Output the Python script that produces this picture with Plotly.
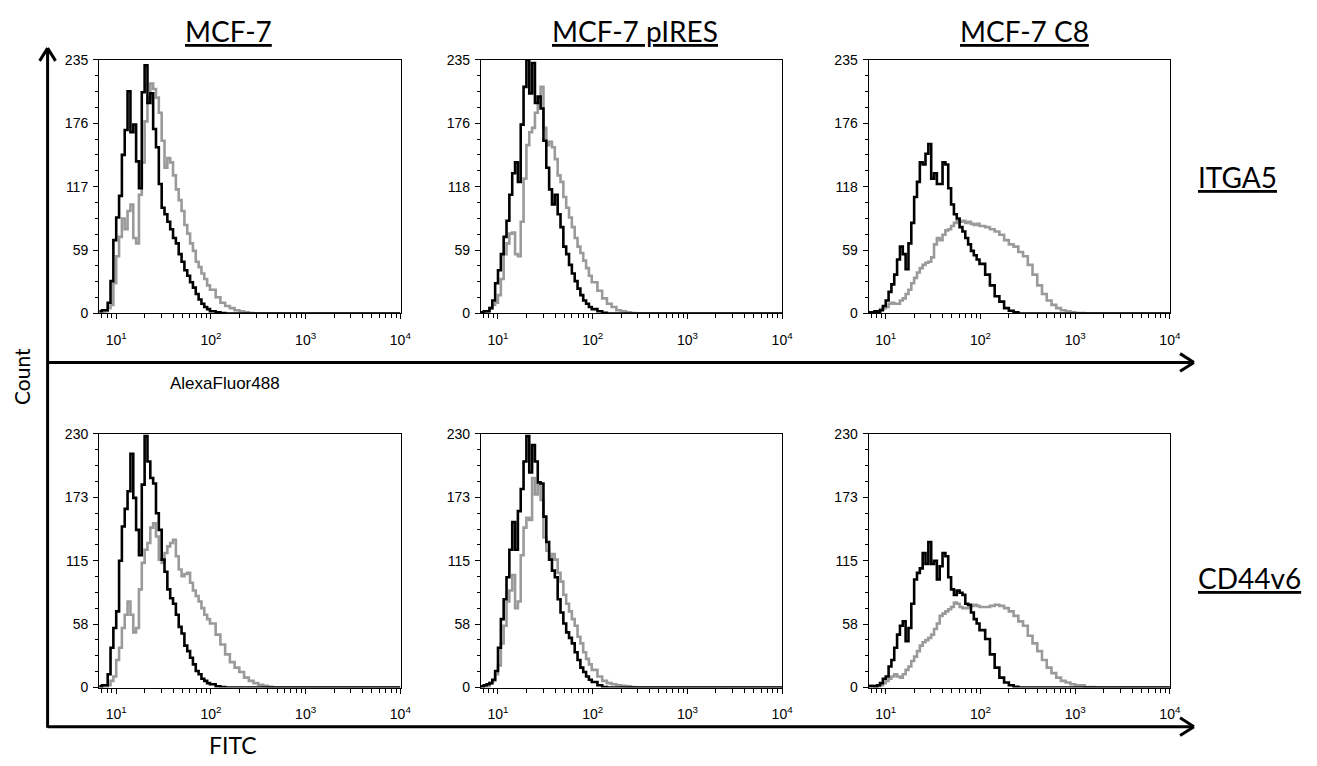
import plotly.graph_objects as go

W, H = 1317, 766

# Fluorescence channel grid (shared by all histograms)
fl = [6.61, 7.08, 7.59, 8.13, 8.71, 9.33, 10.0, 10.72, 11.48, 12.30,
      13.18, 14.13, 15.14, 16.22, 17.38, 18.62, 19.95, 21.38, 22.91, 24.55,
      26.30, 28.18, 30.20, 32.36, 34.67, 37.15, 39.81, 42.66, 45.71, 48.98,
      52.48, 56.23, 60.26, 64.57, 69.18, 74.13, 79.43, 85.11, 91.20, 97.72,
      112.2, 125.9, 141.3, 158.5, 177.8, 199.5, 223.9, 251.2, 281.8, 316.2,
      354.8, 398.1, 446.7, 501.2, 562.3, 631.0, 707.9, 794.3, 891.3, 1000,
      1259, 1585, 10000]

# ITGA5 row (AlexaFluor488) - black = control, grey = stained
itga5_mcf7_ctrl = [2, 3, 3, 10, 30, 68, 89, 109, 147, 170,
                   206, 168, 175, 141, 116, 205, 230, 195, 204, 171,
                   154, 120, 98, 92, 85, 78, 70, 65, 55, 48,
                   40, 35, 29, 24, 18, 13, 9, 6, 4, 2,
                   1, 0.5, 0, 0, 0, 0, 0, 0, 0, 0,
                   0, 0, 0, 0, 0, 0, 0, 0, 0, 0,
                   0, 0, 0]
itga5_mcf7_stain = [0, 0, 2, 5, 8, 28, 53, 71, 88, 78,
                    95, 101, 70, 65, 110, 140, 178, 200, 213, 208,
                    200, 186, 160, 135, 144, 140, 128, 115, 105, 95,
                    82, 74, 65, 58, 48, 43, 37, 32, 26, 22,
                    15, 10, 7, 5, 3, 2, 1, 0.5, 0, 0,
                    0, 0, 0, 0, 0, 0, 0, 0, 0, 0,
                    0, 0, 0]
itga5_pires_ctrl = [1, 2, 2, 5, 12, 28, 40, 55, 71, 86,
                    110, 130, 140, 122, 175, 210, 235, 204, 232, 195,
                    201, 190, 160, 135, 115, 101, 110, 92, 80, 62,
                    55, 45, 37, 30, 23, 17, 12, 9, 6, 4,
                    2, 0.6, 0, 0, 0, 0, 0, 0, 0, 0,
                    0, 0, 0, 0, 0, 0, 0, 0, 0, 0,
                    0, 0, 0]
itga5_pires_stain = [0, 0, 2, 5, 8, 10, 17, 32, 55, 65,
                     74, 75, 55, 53, 85, 125, 156, 168, 172, 186,
                     195, 210, 172, 156, 159, 154, 143, 128, 122, 108,
                     98, 89, 80, 70, 62, 56, 49, 42, 35, 29,
                     21, 14, 9, 6, 3, 2, 1, 0.5, 0, 0,
                     0, 0, 0, 0, 0, 0, 0, 0, 0, 0,
                     0, 0, 0]
itga5_c8_ctrl = [1, 1, 2, 1, 3, 7, 12, 20, 27, 36,
                 50, 62, 55, 41, 65, 84, 108, 122, 140, 138,
                 148, 157, 125, 130, 120, 120, 140, 138, 116, 101,
                 92, 88, 80, 76, 70, 64, 58, 54, 50, 46,
                 36, 26, 16, 11, 5, 2.5, 1, 0, 0, 0,
                 0, 0, 0, 0, 0, 0, 0, 0, 0, 0,
                 0, 0, 0]
itga5_c8_stain = [0, 0, 1, 2, 4, 5, 6, 9, 10, 9,
                  9, 12, 14, 18, 22, 28, 33, 38, 42, 45,
                  47, 48, 52, 64, 70, 68, 73, 77, 78, 81,
                  84, 86, 85, 86, 84, 85, 83, 82, 83, 81,
                  80, 78, 76, 73, 68, 64, 62, 57, 53, 45,
                  36, 26, 18, 12, 8, 5, 3, 2, 1, 0.5,
                  0, 0, 0]

# CD44v6 row (FITC)
cd44_mcf7_ctrl = [1, 2, 2, 12, 36, 54, 69, 115, 146, 162,
                  178, 212, 172, 143, 120, 184, 228, 205, 190, 185,
                  158, 143, 116, 105, 89, 81, 76, 66, 55, 49,
                  38, 33, 27, 21, 15, 12, 8, 6, 4, 3,
                  1, 0.5, 0, 0, 0, 0, 0, 0, 0, 0,
                  0, 0, 0, 0, 0, 0, 0, 0, 0, 0,
                  0, 0, 0]
cd44_mcf7_stain = [0, 0, 0, 2, 6, 10, 25, 36, 54, 66,
                   78, 66, 50, 54, 89, 113, 125, 131, 145, 149,
                   137, 116, 113, 122, 128, 131, 134, 119, 107, 101,
                   103, 104, 95, 88, 83, 78, 72, 66, 62, 58,
                   48, 39, 30, 23, 18, 14, 9, 6, 4, 2.5,
                   1.5, 0.6, 0, 0, 0, 0, 0, 0, 0, 0,
                   0, 0, 0]
cd44_pires_ctrl = [1, 2, 3, 4, 7, 15, 36, 62, 80, 100,
                   125, 150, 125, 160, 180, 205, 228, 195, 220, 205,
                   186, 185, 155, 132, 116, 106, 100, 80, 68, 58,
                   50, 45, 40, 32, 25, 18, 14, 10, 7, 5,
                   2, 0.5, 0, 0, 0, 0, 0, 0, 0, 0,
                   0, 0, 0, 0, 0, 0, 0, 0, 0, 0,
                   0, 0, 0]
cd44_pires_stain = [0, 0, 1, 4, 6, 12, 20, 40, 56, 78,
                    88, 102, 72, 78, 120, 145, 154, 152, 190, 175,
                    184, 170, 136, 124, 116, 121, 116, 104, 96, 84,
                    76, 69, 62, 56, 46, 40, 32, 26, 21, 16,
                    10, 6, 4, 3, 2, 1.5, 1, 0.5, 0, 0,
                    0, 0, 0, 0, 0, 0, 0, 0, 0, 0,
                    0, 0, 0]
cd44_c8_ctrl = [1, 1, 1, 2, 4, 8, 10, 19, 25, 36,
                48, 56, 60, 42, 54, 76, 98, 104, 108, 122,
                112, 132, 112, 115, 98, 110, 122, 119, 100, 89,
                84, 88, 86, 84, 76, 75, 68, 62, 58, 52,
                44, 30, 18, 9, 4.5, 2, 0.6, 0, 0, 0,
                0, 0, 0, 0, 0, 0, 0, 0, 0, 0,
                0, 0, 0]
cd44_c8_stain = [2, 2, 1, 1, 2, 4, 6, 8, 10, 12,
                 10, 9, 12, 16, 19, 24, 28, 33, 38, 41,
                 43, 45, 48, 53, 58, 65, 67, 69, 71, 73,
                 77, 76, 73, 72, 72, 73, 74, 75, 74, 73,
                 73, 74, 75, 74, 72, 69, 65, 60, 56, 47,
                 40, 33, 25, 18, 13, 9, 6, 4.5, 3, 2,
                 0.5, 0, 0]

columns = ["MCF-7", "MCF-7 pIRES", "MCF-7 C8"]
rows = ["ITGA5", "CD44v6"]
row_ymax = [235, 230]
row_yticks = [[0, 58.75, 117.5, 176.25, 235], [0, 57.5, 115, 172.5, 230]]
row_yticktext = [[["0", "59", "117", "176", "235"],
                  ["0", "59", "118", "176", "235"],
                  ["0", "59", "118", "176", "235"]],
                 [["0", "58", "115", "173", "230"]] * 3]
x_tickvals = [10, 100, 1000, 10000]
x_ticktext = ["10<sup>1</sup>", "10<sup>2</sup>", "10<sup>3</sup>", "10<sup>4</sup>"]
x_minor = [7, 8, 9, 20, 30, 40, 50, 60, 70, 80, 90,
           200, 300, 400, 500, 600, 700, 800, 900,
           2000, 3000, 4000, 5000, 6000, 7000, 8000, 9000]

data = [[(itga5_mcf7_ctrl, itga5_mcf7_stain), (itga5_pires_ctrl, itga5_pires_stain), (itga5_c8_ctrl, itga5_c8_stain)],
        [(cd44_mcf7_ctrl, cd44_mcf7_stain), (cd44_pires_ctrl, cd44_pires_stain), (cd44_c8_ctrl, cd44_c8_stain)]]

def px(x):
    return x / W

def py(y):
    return 1 - y / H

col_px = [(100, 404), (485, 789), (876, 1180)]
row_px = [(53, 312), (435, 694)]

BLACK = "#000000"
GREY = "#9a9a9a"
tickfont = dict(family="Liberation Sans, Arial, sans-serif", size=14, color="black")

fig = go.Figure()
layout = {}
n = 0
for r in range(2):
    for c in range(3):
        n += 1
        xname = "x" if n == 1 else f"x{n}"
        yname = "y" if n == 1 else f"y{n}"
        ctrl, stain = data[r][c]
        fig.add_trace(go.Scatter(x=fl, y=stain, mode="lines", line=dict(color=GREY, width=2.6, shape="hv"),
                                 xaxis=xname, yaxis=yname, showlegend=False, hoverinfo="skip"))
        fig.add_trace(go.Scatter(x=fl, y=ctrl, mode="lines", line=dict(color=BLACK, width=2.6, shape="hv"),
                                 xaxis=xname, yaxis=yname, showlegend=False, hoverinfo="skip"))
        x0, x1 = col_px[c]
        y0, y1 = row_px[r]
        layout["xaxis" if n == 1 else f"xaxis{n}"] = dict(
            type="log", range=[0.82, 4.003], domain=[px(x0), px(x1)], anchor=yname,
            showline=True, linecolor="black", linewidth=1, mirror=True,
            ticks="outside", ticklen=5, tickwidth=1, tickcolor="black",
            tickvals=x_tickvals, ticktext=x_ticktext, tickfont=tickfont,
            ticklabelstandoff=9,
            showgrid=False, zeroline=False,
            minor=dict(tickvals=x_minor, ticks="outside", ticklen=4, tickwidth=1,
                       tickcolor="black", showgrid=False))
        ymax = row_ymax[r]
        layout["yaxis" if n == 1 else f"yaxis{n}"] = dict(
            range=[0, ymax], domain=[py(y1), py(y0)], anchor=xname,
            showline=True, linecolor="black", linewidth=1.3, mirror=True,
            ticks="outside", ticklen=5, tickwidth=1, tickcolor="black",
            tickvals=row_yticks[r], ticktext=row_yticktext[r][c], tickfont=tickfont,
            ticklabelstandoff=2,
            showgrid=False, zeroline=False,
            minor=dict(tick0=0, dtick=ymax / 16, ticks="outside", ticklen=3, tickwidth=1,
                       tickcolor="black", showgrid=False))

# Axis arrows (decoration)
AX_X = 48
shapes = []
lw = 3
def seg(xa, ya, xb, yb):
    shapes.append(dict(type="line", xref="paper", yref="paper",
                       x0=px(xa), y0=py(ya), x1=px(xb), y1=py(yb),
                       line=dict(color="black", width=lw)))
# vertical "Count" arrow
seg(AX_X, 41, AX_X, 735)
seg(AX_X, 41, AX_X - 8, 54)
seg(AX_X, 41, AX_X + 8, 54)
# horizontal arrows
for yy in (362, 734):
    seg(AX_X, yy, 1204, yy)
    seg(1204, yy, 1190, yy - 9)
    seg(1204, yy, 1190, yy + 9)

title_font = dict(family="Lato, Carlito, Calibri, sans-serif", size=28, color="black")
annotations = []
col_centers = [230, 640, 1033]
for c, name in enumerate(columns):
    annotations.append(dict(text=f"<u>{name}</u>", x=px(col_centers[c]), y=py(24),
                            xref="paper", yref="paper", showarrow=False,
                            xanchor="center", yanchor="middle", font=title_font))
row_centers = [173, 582]
for r, name in enumerate(rows):
    annotations.append(dict(text=f"<u>{name}</u>", x=px(1206), y=py(row_centers[r]),
                            xref="paper", yref="paper", showarrow=False,
                            xanchor="left", yanchor="middle", font=title_font))
annotations.append(dict(text="Count", x=px(21), y=py(376), xref="paper", yref="paper",
                        showarrow=False, textangle=-90, xanchor="center", yanchor="middle",
                        font=dict(family="Lato, Carlito, Calibri, sans-serif", size=21, color="black")))
annotations.append(dict(text="FITC", x=px(235), y=py(753), xref="paper", yref="paper",
                        showarrow=False, xanchor="center", yanchor="middle",
                        font=dict(family="Lato, Carlito, Calibri, sans-serif", size=23, color="black")))
annotations.append(dict(text="AlexaFluor488", x=px(227), y=py(384), xref="paper", yref="paper",
                        showarrow=False, xanchor="center", yanchor="middle",
                        font=dict(family="Liberation Sans, Arial, sans-serif", size=17, color="black")))

fig.update_layout(width=W, height=H, autosize=False,
                  margin=dict(l=0, r=0, t=0, b=0),
                  paper_bgcolor="white", plot_bgcolor="white",
                  shapes=shapes, annotations=annotations, **layout)

fig.write_html("out.html", config={"displayModeBar": False},
               post_script="document.body.style.margin='0px';document.body.style.padding='0px';"
                           "document.documentElement.style.overflow='hidden';")
